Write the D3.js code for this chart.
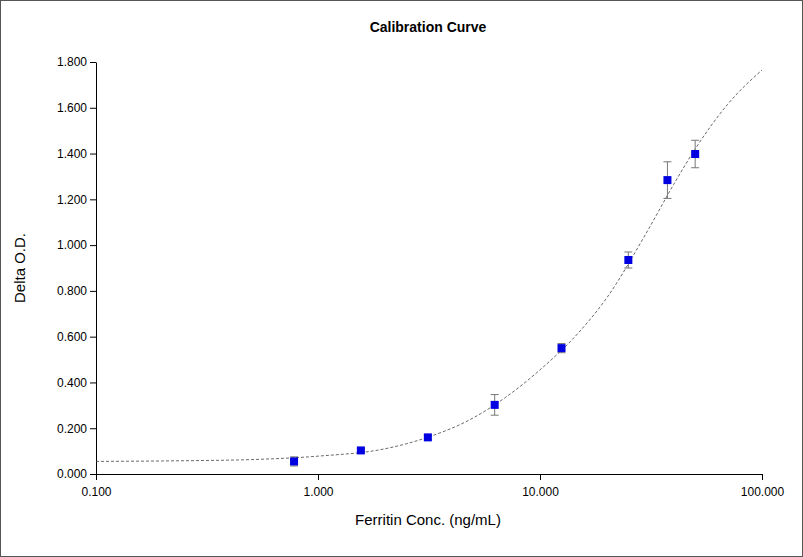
<!DOCTYPE html><html><head><meta charset="utf-8"><script src="https://cdn.jsdelivr.net/npm/d3@7"></script>
<style>body{margin:0;background:#fff}svg{display:block;font-family:"Liberation Sans",Arial,sans-serif}</style></head><body>
<script>
const conc=[0.78,1.56,3.125,6.25,12.5,25,37.5,50];
const od=[0.055,0.103,0.160,0.302,0.550,0.935,1.284,1.398];
const err=[0.02,0.008,0.01,0.045,0.02,0.035,0.08,0.06];
const fitX=[0.1,0.2,0.5,1,2,3,5,7,10,15,20,30,40,50,70,100];
const fitY=[0.055,0.057,0.063,0.078,0.11,0.155,0.245,0.335,0.455,0.62,0.77,1.05,1.265,1.42,1.615,1.765];
const xTicks=[0.1,1,10,100];
const yTicks=[0,0.2,0.4,0.6,0.8,1.0,1.2,1.4,1.6,1.8];
const W=803,H=557;
const svg=d3.select("body").append("svg").attr("width",W).attr("height",H);
svg.append("rect").attr("x",0.5).attr("y",0.5).attr("width",W-1).attr("height",H-1).attr("fill","#fff").attr("stroke","#555");
const x=d3.scaleLog().domain([0.1,100]).range([96,762]);
const y=d3.scaleLinear().domain([0,1.8]).range([474,62]);
svg.append("g").attr("transform","translate(0,474)").call(d3.axisBottom(x).tickValues(xTicks).tickFormat(d3.format(".3f")).tickSizeOuter(0)).call(g=>g.selectAll("text").attr("font-size",12).attr("fill","#000").attr("dy","1.1em"));
svg.append("g").attr("transform","translate(96,0)").call(d3.axisLeft(y).tickValues(yTicks).tickFormat(d3.format(".3f")).tickSizeOuter(0)).call(g=>g.selectAll("text").attr("font-size",12).attr("fill","#000"));
svg.selectAll(".domain,.tick line").attr("stroke","#000");
svg.append("path").datum(fitX.map((d,i)=>[d,fitY[i]])).attr("d",d3.line().x(d=>x(d[0])).y(d=>y(d[1])).curve(d3.curveMonotoneX)).attr("fill","none").attr("stroke","#444").attr("stroke-dasharray","3,2").attr("stroke-width",0.8);
const g=svg.append("g");
conc.forEach((c,i)=>{const cx=x(c),t=y(od[i]+err[i]),b=y(od[i]-err[i]);
g.append("path").attr("d",`M${cx},${t}V${b}M${cx-4},${t}H${cx+4}M${cx-4},${b}H${cx+4}`).attr("stroke","#777").attr("fill","none");
g.append("rect").attr("x",cx-4).attr("y",y(od[i])-4).attr("width",8).attr("height",8).attr("fill","#0000e0");});
svg.append("text").attr("x",428).attr("y",32).attr("text-anchor","middle").attr("font-weight","bold").attr("font-size",14).text("Calibration Curve");
svg.append("text").attr("x",428).attr("y",525).attr("text-anchor","middle").attr("font-size",15).text("Ferritin Conc. (ng/mL)");
svg.append("text").attr("transform","translate(25,268) rotate(-90)").attr("text-anchor","middle").attr("font-size",15).text("Delta O.D.");
</script></body></html>
